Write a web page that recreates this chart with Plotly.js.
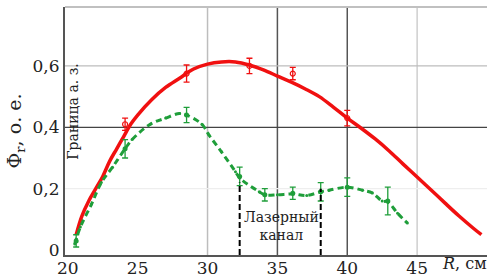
<!DOCTYPE html>
<html><head><meta charset="utf-8">
<script src="https://cdn.plot.ly/plotly-3.0.1.min.js"></script>
<style>html,body{margin:0;padding:0;background:#fff}#c{width:493px;height:279px}</style>
</head><body><div id="c"></div>
<script>
// Red (fit) curve
const redCurveX = [20.6,21,21.5,22,22.5,23,23.5,24,24.5,25,26,27,28,29,30,31,32,33,34,35,36,37,38,39,40,41,42,43,44,45,46,47,48,49,49.6];
const redCurveY = [0.05,0.11,0.16,0.2,0.24,0.29,0.33,0.37,0.41,0.44,0.49,0.53,0.56,0.59,0.606,0.613,0.613,0.603,0.587,0.567,0.547,0.525,0.5,0.466,0.43,0.397,0.362,0.323,0.28,0.238,0.196,0.153,0.111,0.072,0.05];
// Red measured points
const redPtsX = [24.1,28.5,33.0,36.1,40.0];
const redPtsY = [0.41,0.575,0.60,0.575,0.43];
const redErr  = [0.02,0.028,0.025,0.02,0.025];
// Green dashed curve
const greenCurveX = [20.5,20.9,21.7,22.4,23.2,24.1,24.6,25.9,27,28,28.5,29.6,30.1,31,32,32.3,33.7,34.1,35,36.1,37.1,38.1,38.7,40,41.1,41.8,42.5,42.9,43.6,44.3];
const greenCurveY = [0.02,0.075,0.15,0.22,0.27,0.33,0.36,0.41,0.43,0.445,0.44,0.41,0.375,0.32,0.255,0.235,0.19,0.18,0.18,0.183,0.178,0.19,0.195,0.205,0.195,0.186,0.16,0.157,0.12,0.088];
// Green measured points
const greenPtsX = [20.6,24.1,28.5,32.3,34.1,36.1,38.1,40.0,42.9];
const greenPtsY = [0.03,0.33,0.44,0.24,0.18,0.185,0.19,0.205,0.16];
const greenErr  = [0.02,0.03,0.025,0.03,0.02,0.02,0.03,0.03,0.045];
// Laser channel borders
const channelX = [32.3,38.1];
const channelTop = [0.22,0.2];
// Ticks
const xTickVals = [20,25,30,35,40,45];
const xTickText = ['20','25','30','35','40','45'];
const yTickVals = [0,0.2,0.4,0.6];
const yTickText = ['0','0,2','0,4','0,6'];
const xGridColors = {30:'#bdbdbd',35:'#555',40:'#555',45:'#cfcfcf'};
const yGridColors = {0.2:'#eeeeee',0.4:'#444',0.6:'#bdbdbd'};

const font = 'DejaVu Serif';
const red = '#f01010', green = '#1f9e3a';

const traces = [
  {x:redCurveX,y:redCurveY,mode:'lines',line:{color:red,width:3.5,shape:'spline'},hoverinfo:'skip'},
  {x:redPtsX,y:redPtsY,mode:'markers',marker:{symbol:'circle-open',size:5,color:red,line:{width:1.2}},
   error_y:{type:'data',array:redErr,color:red,thickness:1.3,width:3}},
  {x:greenCurveX,y:greenCurveY,mode:'lines+markers',line:{color:green,width:3,dash:'6px,4px',shape:'spline'},
   marker:{size:3,color:green}},
  {x:greenPtsX,y:greenPtsY,mode:'markers',marker:{size:5,color:green},
   error_y:{type:'data',array:greenErr,color:green,thickness:1.3,width:3}}
];

const shapes = [];
xTickVals.forEach(v=>{ if(xGridColors[v]) shapes.push({type:'line',xref:'x',yref:'paper',x0:v,x1:v,y0:0,y1:1,line:{color:xGridColors[v],width:1.5},layer:'below'}); });
yTickVals.forEach(v=>{ if(yGridColors[v]) shapes.push({type:'line',xref:'paper',yref:'y',x0:0,x1:1,y0:v,y1:v,line:{color:yGridColors[v],width:1.3},layer:'below'}); });
shapes.push({type:'line',xref:'paper',yref:'paper',x0:0,x1:1,y0:1,y1:1,line:{color:'#c0c0c0',width:2}});
channelX.forEach((v,i)=>shapes.push({type:'line',xref:'x',yref:'y',x0:v,x1:v,y0:-0.016,y1:channelTop[i],line:{color:'#000',width:2,dash:'6px,3px'}}));

const layout = {
  width:493,height:279,margin:{l:65,r:6,t:7,b:24},
  paper_bgcolor:'#fff',plot_bgcolor:'#fff',showlegend:false,
  font:{family:font,size:16,color:'#222'},
  xaxis:{range:[19.8,50],tickvals:xTickVals,ticktext:xTickText,showgrid:false,zeroline:false,
         showline:true,linecolor:'#555',linewidth:2,ticks:'',tickfont:{family:font,size:17},ticklabelstandoff:-3},
  yaxis:{range:[-0.016,0.792],tickvals:yTickVals,ticktext:yTickText,showgrid:false,zeroline:false,
         showline:true,linecolor:'#555',linewidth:2,ticks:'',tickfont:{family:font,size:17},
         title:{text:'Ф<sub>r</sub>, о. е.',font:{family:font,size:19},standoff:6}},
  shapes:shapes,
  annotations:[
    {x:48.4,y:0,xref:'x',yref:'paper',yanchor:'top',yshift:3,showarrow:false,text:'<i>R</i>, см',font:{family:font,size:16}},
    {x:20.35,y:0.45,xref:'x',yref:'y',showarrow:false,text:'Граница а. з.',textangle:-90,font:{family:font,size:14},xanchor:'center'},
    {x:35.3,y:0.08,xref:'x',yref:'y',showarrow:false,text:'Лазерный<br>канал',font:{family:font,size:14}}
  ]
};
Plotly.newPlot('c',traces,layout,{staticPlot:true});
</script></body></html>
